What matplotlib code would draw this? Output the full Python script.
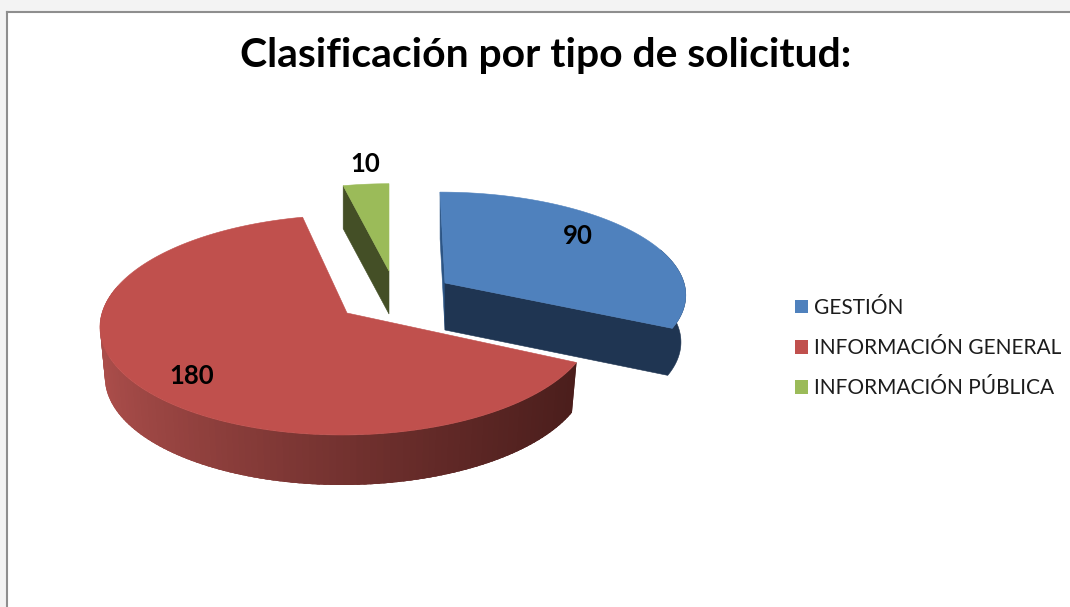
import numpy as np
import matplotlib
matplotlib.use("Agg")
import matplotlib.pyplot as plt
from matplotlib.colors import to_rgb
from matplotlib.patches import Patch

TITLE = "Clasificación por tipo de solicitud:"
categories = ["GESTIÓN", "INFORMACIÓN GENERAL", "INFORMACIÓN PÚBLICA"]
values = [90, 180, 10]

top_colors = ["#4F81BD", "#C0504D", "#9BBB59"]
side_colors = ["#1F3552", "#7A3331", "#444F26"]
inner_wall = "#2C5585"
wall_left, wall_right = "#AA4D4A", "#4B1E1C"

# projection of each exploded slice: centre x, centre y, A, B, perspective, shear, depth, bottom scale
proj = [
    dict(cx=445, cy=283, A=239, B=100, k=0.10, s=-5, d=47, q=0.98),
    dict(cx=347, cy=313, A=245, B=108.7, k=0.109, s=5, d=50, q=0.98),
    dict(cx=389, cy=271, A=226, B=96, k=0.10, s=0, d=43, q=1.0),
]
label_xy = [(578, 236), (192, 376), (365, 164)]

W, H = 1070, 607
fig = plt.figure(figsize=(W / 100, H / 100), dpi=100, facecolor="#F3F3F3")
ax = fig.add_axes([7 / W, 0, (W - 7) / W, (H - 12) / H])
ax.set_xlim(7, W)
ax.set_ylim(H, 12)
ax.set_facecolor("white")
ax.set_xticks([])
ax.set_yticks([])
for side in ("right", "bottom"):
    ax.spines[side].set_visible(False)
for side in ("left", "top"):
    ax.spines[side].set_color("#8E8E8E")
    ax.spines[side].set_linewidth(1.5)


def pt(p, deg, r=1.0, lower=False):
    t = np.radians(deg)
    u, v = r * np.sin(t), r * np.cos(t)
    den = 1 + p["k"] * v
    sc = p["q"] if lower else 1.0
    x = p["cx"] + sc * (p["A"] * u / den + p["s"] * v)
    y = p["cy"] + (p["d"] if lower else 0) - p["B"] * v / den
    return np.array([x, y])


def arc(p, a, b, lower=False, n=200):
    return np.array([pt(p, t, lower=lower) for t in np.linspace(a, b, n)])


def poly(pts, color, z, lw=0.4):
    ax.fill(pts[:, 0], pts[:, 1], facecolor=color, edgecolor=color, linewidth=lw, zorder=z)


sweeps = np.array(values) / np.sum(values) * 360
ends = np.cumsum(sweeps)
starts = ends - sweeps
blue, red, green = 0, 1, 2

# red slice: shaded outer wall (overlapping strips, painted left to right), then top face
p = proj[red]
a0, a1 = starts[red], 285.0
grid = np.linspace(a1, a0, 120)
step = grid[0] - grid[1]
cl, cr = np.array(to_rgb(wall_left)), np.array(to_rgb(wall_right))
for t in grid[:-1]:
    t1 = t - step
    t2 = max(t - 2.5 * step, a0)
    q = np.array([pt(p, t), pt(p, t1), pt(p, t2), pt(p, t2, lower=True), pt(p, t1, lower=True), pt(p, t, lower=True)])
    f = np.clip((pt(p, t)[0] - 105) / (575 - 105), 0, 1) ** 0.8
    poly(q, tuple(cl + (cr - cl) * f), 2, lw=0)
top = np.vstack([[p["cx"], p["cy"]], arc(p, starts[red], ends[red])])
poly(top, top_colors[red], 3)

# green slice
p = proj[green]
c = np.array([p["cx"], p["cy"]])
e = pt(p, starts[green])
face = np.array([c, e, e + [0, p["d"]], c + [0, p["d"]]])
poly(face, side_colors[green], 4)
poly(np.vstack([c, arc(p, starts[green], ends[green])]), top_colors[green], 5)

# blue slice: inner wall, then cut face and outer wall as one shape, then top face
p = proj[blue]
c = np.array([p["cx"], p["cy"]])
cb = pt(p, 0, r=0, lower=True)
poly(np.array([pt(p, 0), c, cb, pt(p, 0, lower=True)]), inner_wall, 6)
side = np.vstack([c, arc(p, ends[blue], 70), arc(p, 70, ends[blue], lower=True), cb])
poly(side, side_colors[blue], 7)
poly(np.vstack([c, arc(p, starts[blue], ends[blue])]), top_colors[blue], 8)

FONT = ["Lato", "DejaVu Sans"]
ax.text(546, 56, TITLE, ha="center", va="center", fontsize=29.4, fontweight="bold",
        family=FONT, color="black", zorder=10)
for v, (x, y) in zip(values, label_xy):
    ax.text(x, y, str(v), ha="center", va="center", fontsize=18.5, fontweight="bold",
            family=FONT, color="black", zorder=10)

handles = [Patch(facecolor=c, edgecolor=c, linewidth=0) for c in top_colors]
leg = ax.legend(handles, categories, loc="upper left", bbox_to_anchor=(795, 298),
                bbox_transform=ax.transData, frameon=False, borderpad=0, borderaxespad=0,
                fontsize=15, handlelength=0.62, handleheight=0.62, handletextpad=0.3,
                labelspacing=0.97)
for t in leg.get_texts():
    t.set_family(FONT)
    t.set_color("#1C1C1C")

fig.savefig("out.png", dpi=100, facecolor=fig.get_facecolor())
